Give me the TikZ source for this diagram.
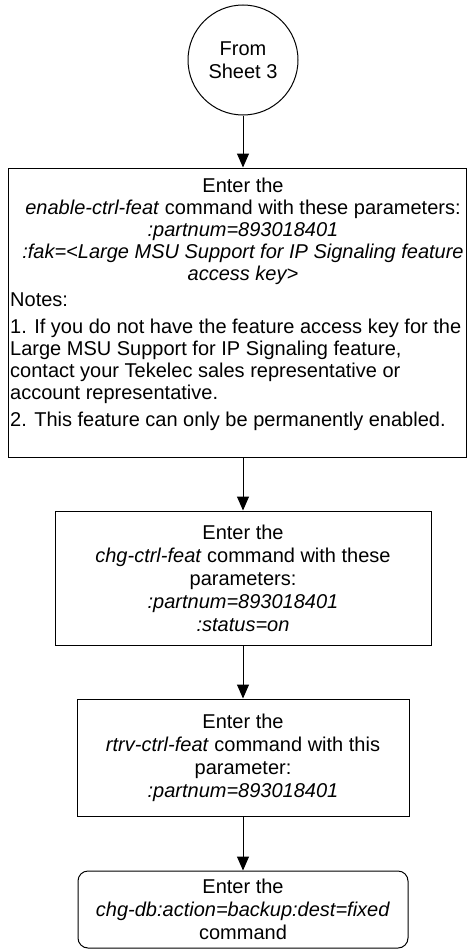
\documentclass[tikz,border=0pt]{standalone}
\usepackage{fontspec}
\setmainfont{Liberation Sans}
\usetikzlibrary{arrows.meta}
\begin{document}
\begin{tikzpicture}[x=1pt,y=-1pt,
  every node/.style={font=\fontsize{20}{23}\selectfont},
  flow/.style={draw,line width=1pt,align=center,inner sep=0pt},
  txt/.style={inner sep=0pt,font=\fontsize{20}{22}\selectfont},
  conn/.style={line width=1pt,-{Triangle[length=14pt,width=12pt]}},
]
\useasboundingbox (0,0) rectangle (470,950);
\node[flow,circle,minimum size=110pt] (start) at (243,60) {From\\Sheet 3};
\node[flow,minimum width=458pt,minimum height=289pt] (b1) at (237,312.5) {};
\node[txt,align=center] (b1top) at (243,231)
  {Enter the\\\textit{enable-ctrl-feat} command with these parameters:\\\textit{:partnum=893018401}\\\textit{:fak=<Large MSU Support for IP Signaling feature}\\\textit{access key>}};
\node[txt,align=left,anchor=west] (b1notes) at (10,362)
  {Notes:\\[5pt]1. If you do not have the feature access key for the\\Large MSU Support for IP Signaling feature,\\contact your Tekelec sales representative or\\account representative.\\[5pt]2. This feature can only be permanently enabled.};
\node[flow,minimum width=376pt,minimum height=134pt] (b2) at (243,578)
  {Enter the\\\textit{chg-ctrl-feat} command with these\\parameters:\\\textit{:partnum=893018401}\\\textit{:status=on}};
\node[flow,minimum width=332pt,minimum height=117pt] (b3) at (243,757.5)
  {Enter the\\\textit{rtrv-ctrl-feat} command with this\\parameter:\\\textit{:partnum=893018401}};
\node[flow,rounded corners=10pt,minimum width=330pt,minimum height=77pt] (b4) at (243,909.5)
  {Enter the\\\textit{chg-db:action=backup:dest=fixed}\\command};
\draw[conn] (start) -- (start |- b1.north);
\draw[conn] (b1.south -| b2) -- (b2);
\draw[conn] (b2) -- (b3);
\draw[conn] (b3) -- (b4);
\end{tikzpicture}
\end{document}
